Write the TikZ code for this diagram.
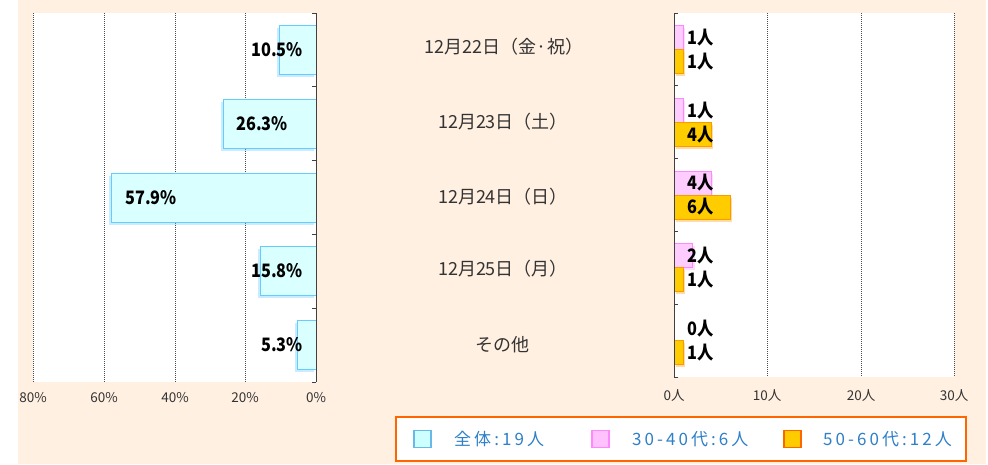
\documentclass[tikz,border=0pt]{standalone}
\usepackage{fontspec}
\setmainfont{Noto Sans CJK JP}
\newfontfamily\jpleg[LetterSpace=18]{Noto Sans CJK JP}
\newfontfamily\jpval[FakeStretch=0.88]{Noto Sans CJK JP}
\usetikzlibrary{shadows}
\definecolor{bg}{HTML}{FFF0E2}
\definecolor{cyfill}{HTML}{D9FFFF}
\definecolor{cyline}{HTML}{66CCFF}
\definecolor{pkfill}{HTML}{FFCCFF}
\definecolor{pkline}{HTML}{FF88FF}
\definecolor{orfill}{HTML}{FFCC00}
\definecolor{orline}{HTML}{FF9900}
\definecolor{legline}{HTML}{FF6600}
\definecolor{legtext}{HTML}{2F80C8}
\definecolor{axtext}{HTML}{333333}
\tikzset{
  gridline/.style={black!70, line width=0.7pt, dash pattern=on 1pt off 1pt},
  axisline/.style={black!75, line width=0.8pt},
  leftbar/.style={fill=cyfill, draw=cyline, line width=0.8pt,
    drop shadow={shadow xshift=-2pt, shadow yshift=-2.5pt, fill=cyline, opacity=0.35}},
  pinkbar/.style={fill=pkfill, draw=pkline, line width=0.8pt,
    drop shadow={shadow xshift=2pt, shadow yshift=-2.5pt, fill=pkline, opacity=0.3}},
  orangebar/.style={fill=orfill, draw=orline, line width=0.8pt,
    drop shadow={shadow xshift=2pt, shadow yshift=-2.5pt, fill=orline, opacity=0.35}},
  vallabel/.style={inner sep=0pt, text=black, font=\fontsize{18.5}{18.5}\selectfont\jpval\bfseries},
  catlabel/.style={inner sep=0pt, text=axtext, font=\fontsize{18}{18}\selectfont},
  ticklabel/.style={inner sep=0pt, text=axtext, font=\fontsize{13.5}{13.5}\selectfont},
  legtxt/.style={inner sep=0pt, anchor=west, text=legtext, font=\fontsize{17}{17}\selectfont\jpleg},
}
\begin{document}
\begin{tikzpicture}[x=1pt,y=-1pt]
\useasboundingbox (0,0) rectangle (988,464);
\fill[white] (0,0) rectangle (988,464);
\fill[bg] (18,0) rectangle (986,464);
% plot areas
\fill[white] (33,13) rectangle (316,382);
\fill[white] (674,13) rectangle (954,377);
% grid lines
\foreach \gx in {33,104,175,245} \draw[gridline] (\gx,13) -- (\gx,382);
\foreach \gx in {767,861,954} \draw[gridline] (\gx,13) -- (\gx,377);
% left bars
\draw[leftbar] (278.9,25.4) rectangle (316,74.4);
\draw[leftbar] (223,99.2) rectangle (316,148.2);
\draw[leftbar] (111.2,173) rectangle (316,222);
\draw[leftbar] (260.1,246.8) rectangle (316,295.8);
\draw[leftbar] (297.3,320.6) rectangle (316,369.6);
% left axis
\draw[axisline] (316,13) -- (316,382);
\foreach \ty in {13,86.8,160.6,234.4,308.2,382} \draw[axisline] (312,\ty) -- (316,\ty);
% right bars
\draw[pinkbar] (674,25.4) rectangle (683.3,49.4);
\draw[orangebar] (674,49.4) rectangle (683.3,73.4);
\draw[pinkbar] (674,98.2) rectangle (683.3,122.2);
\draw[orangebar] (674,122.2) rectangle (711.3,146.2);
\draw[pinkbar] (674,171) rectangle (711.3,195);
\draw[orangebar] (674,195) rectangle (730,219);
\draw[pinkbar] (674,243.8) rectangle (692.7,267.8);
\draw[orangebar] (674,267.8) rectangle (683.3,291.8);
\draw[orangebar] (674,340.6) rectangle (683.3,364.6);
% right axis
\draw[axisline] (674,13) -- (674,377);
\foreach \ty in {13,85.8,158.6,231.4,304.2,377} \draw[axisline] (674,\ty) -- (678,\ty);
% left value labels
\node[vallabel, anchor=east] (p1) at (303,50) {10.5\%};
\node[vallabel, anchor=west] (p2) at (236,124) {26.3\%};
\node[vallabel, anchor=west] (p3) at (125,198) {57.9\%};
\node[vallabel, anchor=east] (p4) at (303,271) {15.8\%};
\node[vallabel, anchor=east] (p5) at (303,345) {5.3\%};
% right value labels
\node[vallabel, anchor=west] (a1) at (687,37.4) {1人};
\node[vallabel, anchor=west] (b1) at (687,61.4) {1人};
\node[vallabel, anchor=west] (a2) at (687,110.2) {1人};
\node[vallabel, anchor=west] (b2) at (687,134.2) {4人};
\node[vallabel, anchor=west] (a3) at (687,183) {4人};
\node[vallabel, anchor=west] (b3) at (687,207) {6人};
\node[vallabel, anchor=west] (a4) at (687,255.8) {2人};
\node[vallabel, anchor=west] (b4) at (687,279.8) {1人};
\node[vallabel, anchor=west] (a5) at (687,328.6) {0人};
\node[vallabel, anchor=west] (b5) at (687,352.6) {1人};
% category labels
\node[catlabel] (c1) at (504,47) {12月22日（金·祝）};
\node[catlabel] (c2) at (503,122) {12月23日（土）};
\node[catlabel] (c3) at (503,197) {12月24日（日）};
\node[catlabel] (c4) at (503,269) {12月25日（月）};
\node[catlabel] (c5) at (502,345) {その他};
% tick labels
\node[ticklabel] (t80) at (33,398) {80\%};
\node[ticklabel] (t60) at (104,398) {60\%};
\node[ticklabel] (t40) at (175,398) {40\%};
\node[ticklabel] (t20) at (245,398) {20\%};
\node[ticklabel] (t0) at (316,398) {0\%};
\node[ticklabel] (r0) at (674,396) {0人};
\node[ticklabel] (r10) at (767,396) {10人};
\node[ticklabel] (r20) at (861,396) {20人};
\node[ticklabel] (r30) at (954,396) {30人};
% legend
\draw[legline, line width=2pt, fill=white] (396,417) rectangle (966,461);
\draw[fill=cyfill!80!cyan!60, draw=cyan!80!blue!60, line width=1.5pt] (414,430.5) rectangle (431,447.5);
\draw[fill=pkfill!50!magenta!40, draw=pkline, line width=1.5pt] (592,430.5) rectangle (609,447.5);
\draw[fill=orfill, draw=legline, line width=1.5pt] (784,430.5) rectangle (801,447.5);
\node[legtxt] (l1) at (454,439) {全体:19人};
\node[legtxt] (l2) at (632,439) {30-40代:6人};
\node[legtxt] (l3) at (823,439) {50-60代:12人};
\end{tikzpicture}
\end{document}
